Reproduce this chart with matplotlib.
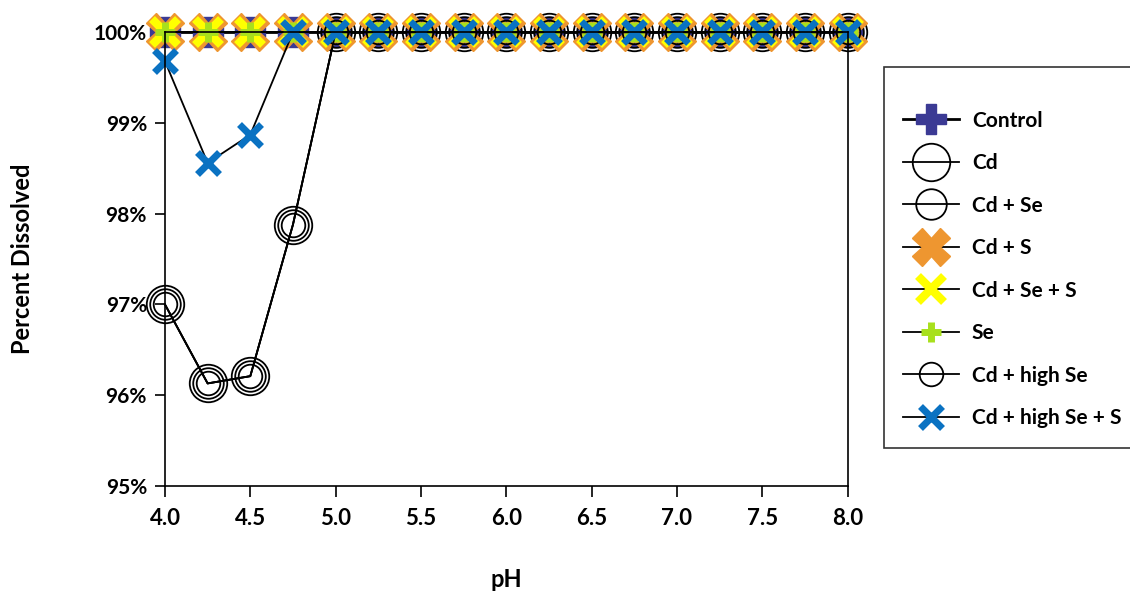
import numpy as np
import matplotlib.pyplot as plt

# data
ph = [4.0, 4.25, 4.5, 4.75, 5.0, 5.25, 5.5, 5.75, 6.0, 6.25, 6.5, 6.75, 7.0, 7.25, 7.5, 7.75, 8.0]
control = [100] * 17
cd = [97.0, 96.13, 96.21, 97.88] + [100] * 13
cd_se = [97.0, 96.13, 96.21, 97.88] + [100] * 13
cd_s = [100] * 17
cd_se_s = [100] * 17
se = [100] * 17
cd_hise = [97.0, 96.13, 96.21, 97.88] + [100] * 13
cd_hise_s = [99.68, 98.56, 98.87] + [100] * 14
xticks = [4.0, 4.5, 5.0, 5.5, 6.0, 6.5, 7.0, 7.5, 8.0]
yticks = [95, 96, 97, 98, 99, 100]

plt.rcParams['font.family'] = ['Lato', 'DejaVu Sans']
plt.rcParams['font.weight'] = 'bold'

fig = plt.figure(figsize=(11.3, 5.97), dpi=100)
ax = fig.add_axes([0.146, 0.186, 0.604, 0.760])

lw = 1.3
ax.plot(ph, control, color='black', lw=2, marker='P', ms=22, mfc='#3B3A94', mec='#3B3A94', label='Control', clip_on=False)
ax.plot(ph, cd, color='black', lw=lw, marker='o', ms=27, mfc='none', mec='black', mew=1.3, label='Cd', clip_on=False)
ax.plot(ph, cd_se, color='black', lw=lw, marker='o', ms=22, mfc='none', mec='black', mew=1.3, label='Cd + Se', clip_on=False)
ax.plot(ph, cd_s, color='black', lw=lw, marker='X', ms=27, mfc='#EE9630', mec='#EE9630', label='Cd + S', clip_on=False)
ax.plot(ph, cd_se_s, color='black', lw=lw, marker='x', ms=19, mew=6, mec='#FFFF00', label='Cd + Se + S', clip_on=False)
ax.plot(ph, se, color='black', lw=lw, marker='+', ms=15, mew=5, mec='#A8E01C', label='Se', clip_on=False)
ax.plot(ph, cd_hise, color='black', lw=lw, marker='o', ms=17, mfc='none', mec='black', mew=1.3, label='Cd + high Se', clip_on=False)
ax.plot(ph, cd_hise_s, color='black', lw=lw, marker='x', ms=16, mew=5, mec='#0A72C2', label='Cd + high Se + S', clip_on=False)

ax.set_xlim(4.0, 8.0)
ax.set_ylim(95, 100)
ax.set_xticks(xticks)
ax.set_xticklabels(['%.1f' % v for v in xticks])
ax.set_yticks(yticks)
ax.set_yticklabels(['%d%%' % v for v in yticks])
ax.tick_params(axis='y', direction='out', length=7, width=1.2, labelsize=15, pad=6)
ax.tick_params(axis='x', direction='out', length=8, width=1.2, labelsize=16, pad=8)
for s in ax.spines.values():
    s.set_linewidth(1.2)

ax.set_xlabel('pH', fontsize=17, fontweight='bold', va='center')
ax.xaxis.set_label_coords(0.5, -0.207)
ax.set_ylabel('Percent Dissolved', fontsize=17, fontweight='bold', va='center')
ax.yaxis.set_label_coords(-0.209, 0.5)

leg = fig.legend(loc='upper left', bbox_to_anchor=(0.782, 0.887), fontsize=15,
                 title=' ', title_fontsize=1,
                 frameon=True, fancybox=False, edgecolor='black', borderpad=0.95,
                 labelspacing=1.08, handlelength=2.65, handletextpad=0.63,
                 borderaxespad=0)
leg.get_frame().set_linewidth(1.2)

fig.savefig('out.png', dpi=100)
